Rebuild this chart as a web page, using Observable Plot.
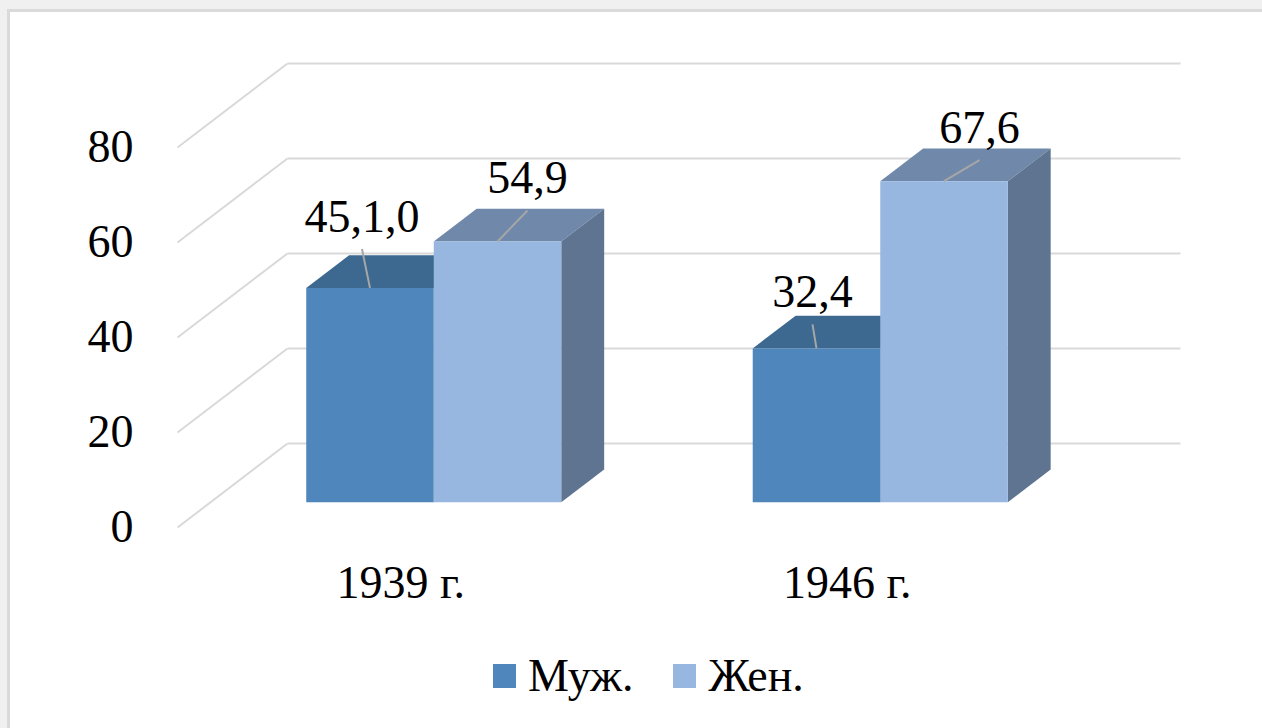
<!DOCTYPE html>
<html>
<head>
<meta charset="utf-8">
<script src="https://cdn.jsdelivr.net/npm/d3@7"></script>
<script src="https://cdn.jsdelivr.net/npm/@observablehq/plot@0.6"></script>
<style>
  html, body { margin: 0; padding: 0; background: #f0f0f0; overflow: hidden; width: 1262px; height: 728px; }
  #frame { position: absolute; left: 7px; top: 9px; width: 1300px; height: 800px; background: #fff;
           border-left: 3px solid #dadada; border-top: 3px solid #dadada; }
  #chart { position: absolute; left: 0; top: 0; }
  #legend { position: absolute; left: 493px; top: 653px; display: flex; align-items: center;
            font-family: "Liberation Serif", serif; font-size: 46px; line-height: 1; color: #000; }
  .sw { width: 23px; height: 24px; margin-right: 12px; }
  .item { display: flex; align-items: center; margin-right: 40px; }
</style>
</head>
<body>
<div id="frame"></div>
<div id="chart"></div>
<script>
// ---- data ----
const categories = ["1939 г.", "1946 г."];
const series = ["Муж.", "Жен."];
const male = [45.1, 32.4];
const female = [54.9, 67.6];
const maleLabels = ["45,1,0", "32,4"];
const femaleLabels = ["54,9", "67,6"];
const yTicks = [0, 20, 40, 60, 80];

// ---- style / layout constants ----
const colors = {
  "Муж.": {front: "#4f87bd", top: "#3d6890", side: "#3a5f85"},
  "Жен.": {front: "#97b7e0", top: "#7089aa", side: "#5f7490"}
};
const pxPerSlot = (1070 - 177) / 2;
const pxPerVal = (527 - 147) / 80;
const DX = 110 / pxPerSlot;     // depth vector in slot units
const DY = 84 / pxPerVal;       // depth vector in value units
const D0 = 0.30, D1 = 0.69;     // bar depth span
const BW = 0.2856;              // bar width (slot units)
// hand-placed data-label nudges (px) relative to front-top centre of each bar
const labelNudge = {
  "Муж.": [[-8, -71], [-4, -56]],
  "Жен.": [[30, -63], [35.5, -53]]
};

const P = (xs, v, d) => ({x: xs + d * DX, y: v + d * DY});

const seriesValues = {"Муж.": male, "Жен.": female};
const seriesLabels = {"Муж.": maleLabels, "Жен.": femaleLabels};

const polys = [];
const labels = [];
categories.forEach((cat, i) => {
  series.forEach((s, j) => {
    const v = seriesValues[s][i];
    const x0 = i + 0.5 - BW + j * BW, x1 = x0 + BW;
    const c = colors[s];
    const faces = [
      ["top", c.top, [P(x0, v, D0), P(x1, v, D0), P(x1, v, D1), P(x0, v, D1)]],
      ["side", c.side, [P(x1, 0, D0), P(x1, v, D0), P(x1, v, D1), P(x1, 0, D1)]],
      ["front", c.front, [P(x0, 0, D0), P(x1, 0, D0), P(x1, v, D0), P(x0, v, D0)]]
    ];
    faces.forEach(([kind, fill, pts]) => {
      const id = `${cat}-${s}-${kind}`;
      pts.forEach(p => polys.push({id, fill, x: p.x, y: p.y}));
    });
    const a = P((x0 + x1) / 2, v, D0);
    const [ox, oy] = labelNudge[s][i];
    const lx = a.x + ox / pxPerSlot, ly = a.y - oy / pxPerVal;
    labels.push({text: seriesLabels[s][i], ax: a.x, ay: a.y, lx, ly, lyLow: ly - 32 / pxPerVal});
  });
});

const font = "Liberation Serif";
const grid = "#d9d9d9";

const plot = Plot.plot({
  width: 1262,
  height: 640,
  margin: 0,
  style: {background: "transparent", fontFamily: font},
  x: {domain: [0, 2], range: [177, 1070], axis: null},
  y: {domain: [0, 80], range: [527, 147], axis: null},
  color: {type: "identity"},
  marks: [
    // side-wall diagonals
    Plot.link(yTicks, {x1: 0, y1: d => d, x2: DX, y2: d => d + DY, stroke: grid, strokeWidth: 2}),
    // back-wall gridlines
    Plot.link(yTicks, {x1: DX, y1: d => d + DY, x2: 2 + DX, y2: d => d + DY, stroke: grid, strokeWidth: 2}),
    // bars (faces)
    Plot.line(polys, {x: "x", y: "y", z: "id", fill: "fill", stroke: null}),
    // y tick labels
    Plot.text(yTicks, {x: 0, y: d => d, text: d => String(d), dx: -44, textAnchor: "end",
      fontSize: 46, fontFamily: font, fill: "#000"}),
    // category labels
    Plot.text(categories, {x: (d, i) => i + 0.5, y: 0, text: d => d, dy: 56,
      fontSize: 46, fontFamily: font, fill: "#000"}),
    // leader lines
    Plot.link(labels, {x1: "lx", y1: "lyLow", x2: "ax", y2: "ay", stroke: "#a6a6a6", strokeWidth: 2}),
    // value labels
    Plot.text(labels, {x: "lx", y: "ly", text: "text", fontSize: 46, fontFamily: font, fill: "#000"})
  ]
});
document.getElementById("chart").appendChild(plot);

// legend (HTML, below the SVG)
const legend = document.createElement("div");
legend.id = "legend";
series.forEach(s => {
  const item = document.createElement("div");
  item.className = "item";
  const sw = document.createElement("div");
  sw.className = "sw";
  sw.style.background = colors[s].front;
  const t = document.createElement("span");
  t.textContent = s;
  item.appendChild(sw);
  item.appendChild(t);
  legend.appendChild(item);
});
document.body.appendChild(legend);
</script>
</body>
</html>
